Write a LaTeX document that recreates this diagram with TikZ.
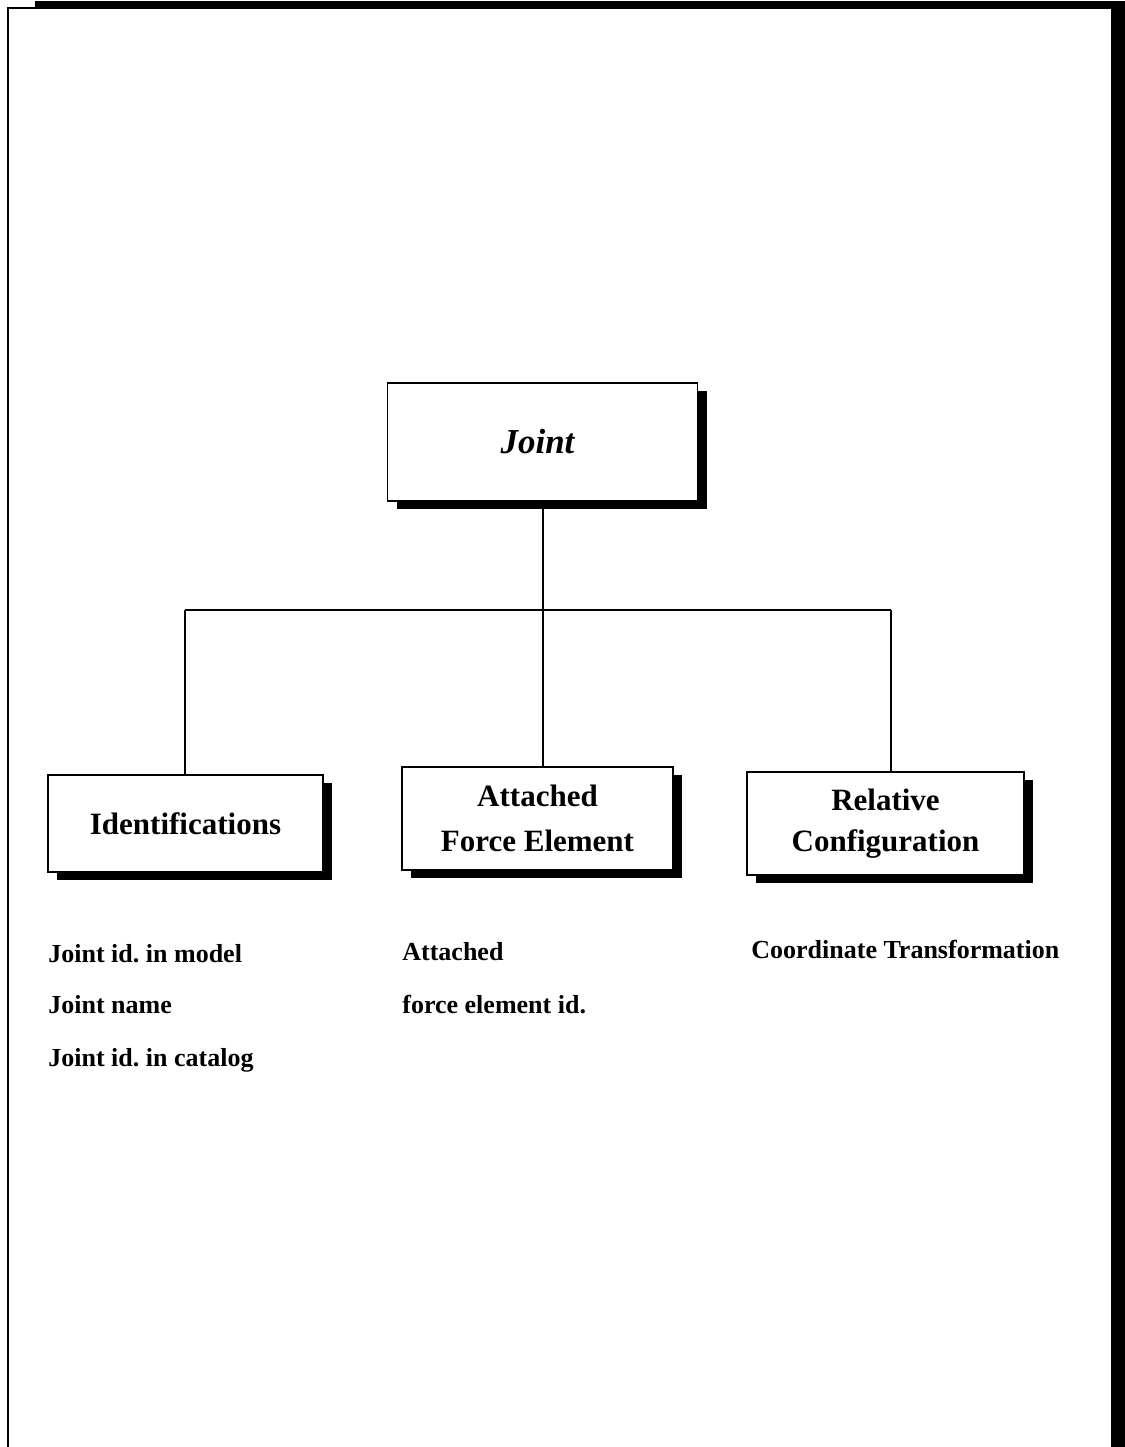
\documentclass[tikz,border=0pt]{standalone}
\usepackage{fontspec}
\setmainfont{Liberation Serif}
\usetikzlibrary{shadows}
\frenchspacing
\begin{document}
\begin{tikzpicture}[x=0.5pt,y=-0.5pt,
  box/.style={draw=black, line width=0.8pt, fill=white, inner sep=0pt, outer sep=0pt,
    align=center, font=\fontsize{15.5}{22.5}\selectfont\bfseries,
    drop shadow={shadow xshift=4.5pt, shadow yshift=-4pt, fill=black, opacity=1}},
  link/.style={draw=black, line width=0.7pt},
  item/.style={anchor=base west, inner sep=0pt, font=\fontsize{13}{15}\selectfont\bfseries},
  frame/.style={fill=black, draw=none}]
\useasboundingbox (0,0) rectangle (1125,1447);

% page frame
\draw[line width=1pt] (8,1447) -- (8,8) -- (36,8);
\fill[frame] (35,1) rectangle (1125,9);
\fill[frame] (1111,1) rectangle (1125,1447);

% boxes
\node[box, minimum width=155pt, minimum height=59pt] (joint) at (542.5,442)
  {\fontsize{17.5}{20}\selectfont\bfseries\itshape Joint\hspace{5pt}};
\node[box, minimum width=137.5pt, minimum height=48.5pt] (ident) at (185.5,823.5)
  {\raisebox{-2pt}{Identifications}};
\node[box, minimum width=135.5pt, minimum height=51.5pt] (force) at (537.5,818.5)
  {Attached\\Force Element};
\node[box, minimum width=138.5pt, minimum height=51.5pt] (rel) at (885.5,823.5)
  {\raisebox{-2pt}{Relative}\\[-1pt]\raisebox{-1pt}{Configuration}};

% connectors
\coordinate (busL) at (185,610);
\coordinate (busR) at (891,610);
\coordinate (busM) at (543,610);
\draw[link] (joint.south -| busM) -- (busM);
\draw[link] (busL) -- (busR);
\draw[link] (busL) -- (busL |- ident.north);
\draw[link] (busM) -- (busM |- force.north);
\draw[link] (busR) -- (busR |- rel.north);

% attribute lists
\node[item] (i1) at (48,962) {Joint id. in model};
\node[item] (i2) at (48,1013) {Joint name};
\node[item] (i3) at (48,1066) {Joint id. in catalog};
\node[item] (f1) at (402,960) {Attached};
\node[item] (f2) at (402,1013) {force element id.};
\node[item] (r1) at (751,958) {Coordinate Transformation};
\end{tikzpicture}
\end{document}
